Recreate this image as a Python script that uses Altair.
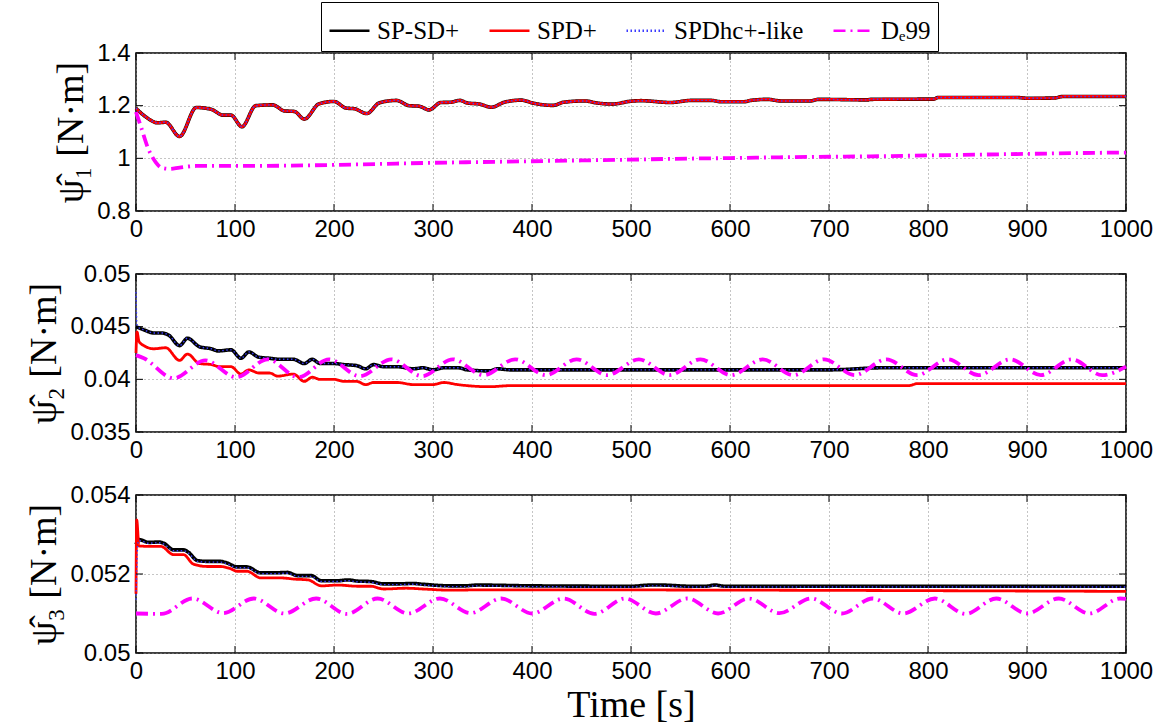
import altair as alt
import pandas as pd

SERIES = ["SP-SD+", "SPD+", "SPDhc+-like", "D\u209199"]
COLORS = ["#000000", "#ff0000", "#3c3cff", "#ff00ff"]
DASHES = [[1, 0], [1, 0], [1.5, 2.5], [12, 5, 2, 5]]
WIDTHS = [3.6, 2.8, 1.4, 3.8]

X_TICKS = [0, 100, 200, 300, 400, 500, 600, 700, 800, 900, 1000]

# ---------------- panel 1 ----------------
P1_Y_TICKS = [0.8, 1.0, 1.2, 1.4]
P1_RED_T = [0, 10, 22, 30, 44, 61, 76, 88, 96, 107, 121, 138, 150, 160, 170, 185, 200, 212, 221, 233,
            246, 263, 276, 286, 296, 308, 318, 327, 335, 347, 359, 372, 389, 402, 421, 432, 453, 466,
            481, 500, 510, 540, 561, 581, 591, 614, 621, 638, 651, 681, 689, 739, 742, 806, 810, 890,
            900, 927, 937, 1000]
P1_RED_V = [1.19, 1.157, 1.135, 1.137, 1.083, 1.193, 1.186, 1.164, 1.164, 1.12, 1.2, 1.203, 1.18, 1.178,
            1.149, 1.207, 1.216, 1.191, 1.188, 1.17, 1.211, 1.22, 1.2, 1.198, 1.184, 1.212, 1.213, 1.22,
            1.21, 1.206, 1.194, 1.213, 1.221, 1.209, 1.201, 1.213, 1.218, 1.21, 1.206, 1.217, 1.219,
            1.212, 1.22, 1.22, 1.215, 1.215, 1.22, 1.224, 1.218, 1.218, 1.224, 1.222, 1.224, 1.225,
            1.231, 1.231, 1.228, 1.229, 1.235, 1.235]
P1_BLACK_T = P1_RED_T
P1_BLACK_V = P1_RED_V
P1_BLUE_T = P1_RED_T
P1_BLUE_V = P1_RED_V
P1_MAG_T = [0, 5, 12, 20, 26, 34, 44, 61, 100, 150, 200, 250, 300, 350, 400, 450, 500, 540, 600, 650,
            700, 750, 800, 850, 900, 950, 1000]
P1_MAG_V = [1.176, 1.12, 1.04, 0.985, 0.964, 0.96, 0.965, 0.971, 0.971, 0.972, 0.975, 0.979, 0.983,
            0.986, 0.989, 0.992, 0.995, 0.998, 1.001, 1.004, 1.006, 1.008, 1.011, 1.014, 1.017, 1.02,
            1.022]

# ---------------- panel 2 ----------------
P2_Y_TICKS = [0.035, 0.04, 0.045, 0.05]
P2_BLACK_T = [0, 8, 18, 26, 33, 44, 52, 64, 76, 83, 96, 106, 114, 124, 135, 145, 159, 170, 178, 186,
              200, 210, 223, 232, 240, 250, 264, 280, 290, 300, 311, 325, 335, 357, 365, 378, 420, 500,
              600, 700, 756, 800, 900, 1000]
P2_BLACK_V = [0.0450, 0.0447, 0.0444, 0.0444, 0.0442, 0.0432, 0.0439, 0.0431, 0.0429, 0.0427, 0.0428,
              0.0420, 0.0426, 0.0421, 0.0420, 0.0419, 0.0419, 0.0415, 0.0419, 0.0415, 0.0415, 0.0414,
              0.0413, 0.0410, 0.0414, 0.0412, 0.0412, 0.0410, 0.0411, 0.0409, 0.0411, 0.0411, 0.0409,
              0.0408, 0.0410, 0.0409, 0.0409, 0.0409, 0.0409, 0.0409, 0.0411, 0.0411, 0.0411, 0.0411]
P2_BLUE_T = [0, 1, 3] + P2_BLACK_T[1:]
P2_BLUE_V = [0.0483, 0.0452, 0.0449] + P2_BLACK_V[1:]
P2_RED_T = [0, 1, 3, 8, 18, 30, 44, 52, 64, 76, 85, 96, 106, 114, 124, 135, 143, 159, 170, 178, 186,
            200, 210, 223, 232, 240, 264, 280, 300, 311, 325, 357, 378, 450, 550, 650, 780, 790, 1000]
P2_RED_V = [0.0425, 0.0445, 0.0436, 0.0432, 0.0429, 0.0430, 0.0418, 0.0424, 0.0415, 0.0414, 0.0412,
            0.0412, 0.0405, 0.0409, 0.0406, 0.0406, 0.0403, 0.0405, 0.0398, 0.0402, 0.0400, 0.0400,
            0.0398, 0.0398, 0.0395, 0.0397, 0.0397, 0.0395, 0.0395, 0.0397, 0.0395, 0.0393, 0.0394,
            0.0394, 0.0394, 0.0394, 0.0394, 0.0396, 0.0396]
P2_MAG_T = [0, 8, 38, 70, 101, 133, 164, 195, 226, 258, 289, 320, 351, 383, 414, 445, 476, 508, 539,
            570, 601, 633, 664, 695, 726, 758, 789, 820, 851, 883, 914, 945, 976, 1000]
P2_MAG_V = [0.0423, 0.0420, 0.0401, 0.0418, 0.0402, 0.0419, 0.0402, 0.0419, 0.0403, 0.0419, 0.0403,
            0.0419, 0.0404, 0.0419, 0.0404, 0.0419, 0.0404, 0.0419, 0.0404, 0.0419, 0.0404, 0.0419,
            0.0404, 0.0419, 0.0404, 0.0419, 0.0404, 0.0419, 0.0404, 0.0419, 0.0404, 0.0419, 0.0404,
            0.0412]

# ---------------- panel 3 ----------------
P3_Y_TICKS = [0.05, 0.052, 0.054]
P3_BLACK_T = [0, 3, 13, 23, 28, 38, 48, 53, 62, 72, 85, 92, 102, 112, 126, 140, 153, 163, 177, 187,
              204, 214, 224, 237, 250, 264, 280, 290, 318, 332, 345, 400, 500, 520, 530, 560, 575,
              585, 595, 1000]
P3_BLACK_V = [0.05275, 0.05287, 0.0528, 0.05281, 0.05278, 0.05261, 0.05261, 0.05255, 0.05234, 0.05232,
              0.05232, 0.05228, 0.05218, 0.05218, 0.05203, 0.05203, 0.05204, 0.05196, 0.05196, 0.05183,
              0.05183, 0.05185, 0.05182, 0.05181, 0.05175, 0.05175, 0.05176, 0.05174, 0.0517, 0.0517,
              0.05172, 0.0517, 0.05169, 0.05172, 0.05172, 0.05169, 0.05169, 0.05172, 0.05169, 0.05169]
P3_BLUE_T = [0, 2] + P3_BLACK_T[1:]
P3_BLUE_V = [0.05135, 0.0528] + [v - 0.00002 for v in P3_BLACK_V[1:]]
P3_RED_T = [0, 0.7, 3, 13, 25, 38, 48, 58, 72, 85, 96, 102, 112, 126, 147, 160, 174, 187, 204, 224,
            237, 250, 273, 290, 318, 350, 1000]
P3_RED_V = [0.0515, 0.05337, 0.05271, 0.0527, 0.0527, 0.05249, 0.05249, 0.05225, 0.05219, 0.05219,
            0.05213, 0.05207, 0.05207, 0.0519, 0.0519, 0.05187, 0.05185, 0.0517, 0.05172, 0.05169,
            0.05169, 0.05162, 0.05164, 0.05162, 0.05159, 0.0516, 0.05156]
P3_MAG_T = [0, 26, 57, 88, 119, 150, 182, 213, 244, 275, 307, 338, 369, 400, 432, 463, 494, 525, 557,
            588, 619, 650, 682, 713, 744, 775, 807, 838, 869, 900, 932, 963, 994, 1000]
P3_MAG_V = [0.05100, 0.05099, 0.05138, 0.05101, 0.05138, 0.05100, 0.05138, 0.05099, 0.05138, 0.05100,
            0.05138, 0.05101, 0.05138, 0.05100, 0.05138, 0.05099, 0.05138, 0.05100, 0.05138, 0.05100,
            0.05138, 0.05101, 0.05138, 0.05100, 0.05138, 0.05100, 0.05138, 0.05099, 0.05138, 0.05100,
            0.05138, 0.05100, 0.05138, 0.05137]

W, H = 990, 158

PANELS = [
    dict(ydom=[0.8, 1.4], yt=P1_Y_TICKS, title="\u03c8\u0302\u2081  [N\u00b7m]",
         series=[(P1_BLACK_T, P1_BLACK_V), (P1_RED_T, P1_RED_V), (P1_BLUE_T, P1_BLUE_V), (P1_MAG_T, P1_MAG_V)],
         legend=True, xtitle=None),
    dict(ydom=[0.035, 0.05], yt=P2_Y_TICKS, title="\u03c8\u0302\u2082  [N\u00b7m]",
         series=[(P2_BLACK_T, P2_BLACK_V), (P2_RED_T, P2_RED_V), (P2_BLUE_T, P2_BLUE_V), (P2_MAG_T, P2_MAG_V)],
         legend=False, xtitle=None),
    dict(ydom=[0.05, 0.054], yt=P3_Y_TICKS, title="\u03c8\u0302\u2083  [N\u00b7m]",
         series=[(P3_BLACK_T, P3_BLACK_V), (P3_RED_T, P3_RED_V), (P3_BLUE_T, P3_BLUE_V), (P3_MAG_T, P3_MAG_V)],
         legend=False, xtitle="Time [s]"),
]

legend_spec = alt.Legend(
    title=None, orient="none", legendX=185, legendY=-51, direction="horizontal",
    fillColor="white", strokeColor="black", padding=7, cornerRadius=0,
    labelFont="Liberation Serif", labelFontSize=25, labelColor="black", labelOffset=6,
    symbolType="stroke", symbolSize=1600, symbolStrokeWidth=2.6, columnPadding=24,
)


def make_panel(p):
    xsc = alt.Scale(domain=[0, 1000], nice=False, zero=False)
    ysc = alt.Scale(domain=p["ydom"], nice=False, zero=False)
    xax = alt.Axis(values=X_TICKS, title=p["xtitle"] if p["xtitle"] else None, format="d",
                   labelFlush=False)
    yax = alt.Axis(values=p["yt"], title=p["title"], format="~g", labelFlush=False)
    lg = legend_spec if p["legend"] else None
    layers = []
    for i, (ts, vs) in enumerate(p["series"]):
        df = pd.DataFrame({"t": ts, "v": vs, "series": SERIES[i]})
        layers.append(
            alt.Chart(df).mark_line(interpolate="monotone", strokeCap="butt", strokeJoin="round",
                                    strokeWidth=WIDTHS[i]).encode(
                x=alt.X("t:Q", scale=xsc, axis=xax),
                y=alt.Y("v:Q", scale=ysc, axis=yax),
                color=alt.Color("series:N", scale=alt.Scale(domain=SERIES, range=COLORS), legend=lg),
                strokeDash=alt.StrokeDash("series:N", scale=alt.Scale(domain=SERIES, range=DASHES), legend=lg),
            )
        )
    xt = pd.DataFrame({"t": X_TICKS})
    yt = pd.DataFrame({"v": p["yt"]})
    tick_rules = [
        alt.Chart(xt).mark_rule(color="black", strokeWidth=1).encode(
            x=alt.X("t:Q", scale=xsc, axis=xax), y=alt.value(H), y2=alt.value(H - 7)),
        alt.Chart(xt).mark_rule(color="black", strokeWidth=1).encode(
            x=alt.X("t:Q", scale=xsc, axis=xax), y=alt.value(0), y2=alt.value(7)),
        alt.Chart(yt).mark_rule(color="black", strokeWidth=1).encode(
            y=alt.Y("v:Q", scale=ysc, axis=yax), x=alt.value(0), x2=alt.value(7)),
        alt.Chart(yt).mark_rule(color="black", strokeWidth=1).encode(
            y=alt.Y("v:Q", scale=ysc, axis=yax), x=alt.value(W), x2=alt.value(W - 7)),
    ]
    return alt.layer(*layers, *tick_rules).properties(width=W, height=H)


chart = alt.vconcat(*[make_panel(p) for p in PANELS], spacing=19).resolve_scale(
    y="independent", color="independent", strokeDash="independent"
).properties(
    padding={"left": 25, "top": 0, "right": 4, "bottom": 0},
    background="white",
).configure_view(
    stroke="black", strokeWidth=1.5
).configure_axis(
    labelFont="Liberation Sans", labelFontSize=24, labelColor="black", labelPadding=6,
    titleFont="Liberation Serif", titleFontWeight="normal", titleFontSize=38, titleColor="black",
    titlePadding=6, domain=False, ticks=False,
    grid=True, gridColor="#8a8a8a", gridDash=[1, 3], gridWidth=1,
).configure_axisX(titlePadding=3, titleFontSize=38)

chart.save("out.html", embed_options={"renderer": "svg", "actions": False})
